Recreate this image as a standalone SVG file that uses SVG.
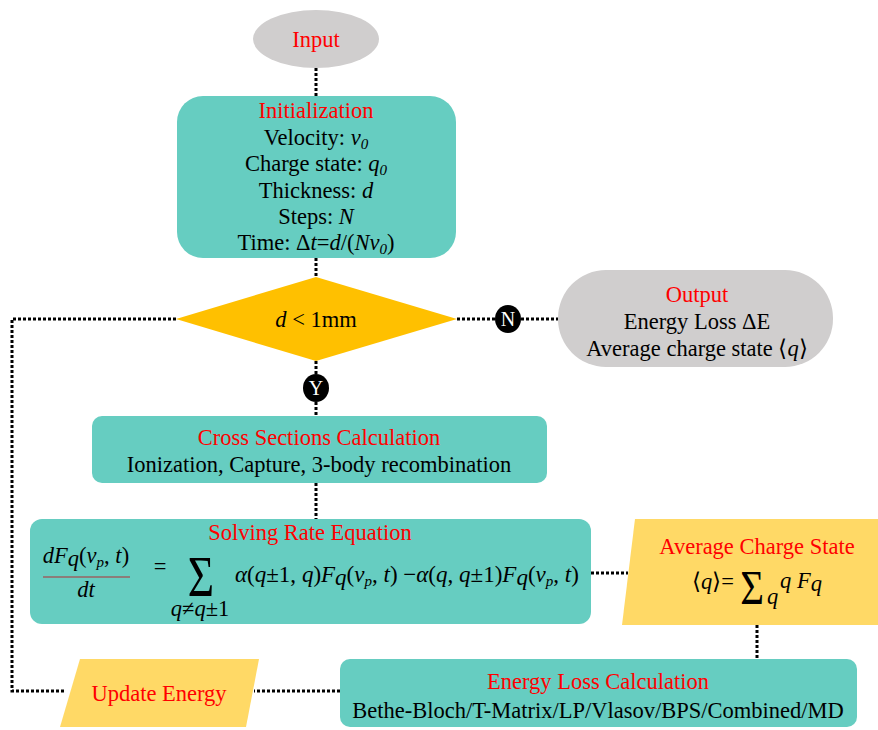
<svg xmlns="http://www.w3.org/2000/svg" width="878" height="730" viewBox="0 0 878 730">
<style>
.t{font-family:"Liberation Serif","Times New Roman",serif;font-size:22.5px;fill:#000;text-anchor:middle}
.r{fill:#ff0000}
.i{font-style:italic}
.s{text-anchor:start}
.teal{fill:#66cdc1}
.gold{fill:#ffd966}
.grey{fill:#d0cece}
.dot{fill:none;stroke:#000;stroke-width:3;stroke-dasharray:3 2}
.bc{fill:#000}
.w{fill:#fff;font-size:20px}
.sub{font-size:15px}
</style>
<g id="connectors">
<line class="dot" x1="316" y1="68" x2="316" y2="96"/>
<line class="dot" x1="316" y1="258" x2="316" y2="278"/>
<line class="dot" x1="457" y1="319" x2="495" y2="319"/>
<line class="dot" x1="521" y1="319" x2="558" y2="319"/>
<line class="dot" x1="316" y1="361" x2="316" y2="374"/>
<line class="dot" x1="316" y1="402" x2="316" y2="416"/>
<line class="dot" x1="316" y1="483" x2="316" y2="519"/>
<line class="dot" x1="591" y1="573" x2="628" y2="573"/>
<line class="dot" x1="757" y1="625" x2="757" y2="659"/>
<line class="dot" x1="340" y1="691" x2="254" y2="691"/>
<polyline class="dot" points="176,319 12,319 12,691 66,691"/>
</g>
<g id="input">
<ellipse class="grey" cx="316" cy="39" rx="63" ry="29"/>
<text class="t r" x="316" y="47">Input</text>
</g>
<g id="init">
<rect class="teal" x="177" y="96" width="279" height="162" rx="26"/>
<text class="t r" x="316" y="118">Initialization</text>
<text class="t" x="316" y="145">Velocity: <tspan class="i">v</tspan><tspan class="i sub" dy="4">0</tspan></text>
<text class="t" x="316" y="171">Charge state: <tspan class="i">q</tspan><tspan class="i sub" dy="4">0</tspan></text>
<text class="t" x="316" y="198">Thickness: <tspan class="i">d</tspan></text>
<text class="t" x="316" y="224">Steps: <tspan class="i">N</tspan></text>
<text class="t" x="316" y="250">Time: Δ<tspan class="i">t</tspan>=<tspan class="i">d</tspan>/(<tspan class="i">Nv</tspan><tspan class="i sub" dy="4">0</tspan><tspan dy="-4">)</tspan></text>
</g>
<g id="decision">
<polygon fill="#ffc000" points="176,319 316,277 457,319 316,361"/>
<text class="t" x="316" y="327"><tspan class="i">d</tspan> &lt; 1mm</text>
</g>
<g id="no">
<ellipse class="bc" cx="508" cy="319" rx="13" ry="14"/>
<text class="t w" x="508" y="326">N</text>
</g>
<g id="yes">
<ellipse class="bc" cx="316" cy="388" rx="13" ry="14"/>
<text class="t w" x="316" y="395">Y</text>
</g>
<g id="output">
<rect class="grey" x="558" y="270" width="275" height="97" rx="48"/>
<text class="t r" x="697" y="302">Output</text>
<text class="t" x="697" y="329">Energy Loss ΔE</text>
<text class="t" x="697" y="356">Average charge state ⟨<tspan class="i">q</tspan>⟩</text>
</g>
<g id="cross">
<rect class="teal" x="92" y="416" width="455" height="67" rx="10"/>
<text class="t r" x="319" y="445">Cross Sections Calculation</text>
<text class="t" x="319" y="472">Ionization, Capture, 3-body recombination</text>
</g>
<g id="rate">
<rect class="teal" x="30" y="519" width="561" height="105" rx="12"/>
<text class="t r" x="310" y="540">Solving Rate Equation</text>
<text class="t" x="86" y="563"><tspan class="i">dF</tspan><tspan class="i" dy="3">q</tspan><tspan dy="-3">(</tspan><tspan class="i">v</tspan><tspan class="i sub" dy="4">p</tspan><tspan dy="-4">, </tspan><tspan class="i">t</tspan>)</text>
<line x1="43" y1="577" x2="130" y2="577" stroke="#9a6262" stroke-width="1.5"/>
<text class="t i" x="86" y="597">dt</text>
<text class="t" x="160" y="574">=</text>
<text class="t" transform="translate(201,596) scale(0.78,1)" x="0" y="0" style="font-size:58px">Σ</text>
<text class="t" x="200" y="616"><tspan class="i">q</tspan>≠<tspan class="i">q</tspan>±1</text>
<text class="t s" x="235" y="582" style="font-size:23px"><tspan class="i">α</tspan>(<tspan class="i">q</tspan>±1, <tspan class="i">q</tspan>)<tspan class="i">F</tspan><tspan class="i" dy="3">q</tspan><tspan dy="-3">(</tspan><tspan class="i">v</tspan><tspan class="i sub" dy="4">p</tspan><tspan dy="-4">, </tspan><tspan class="i">t</tspan>) −<tspan class="i">α</tspan>(<tspan class="i">q</tspan>, <tspan class="i">q</tspan>±1)<tspan class="i">F</tspan><tspan class="i" dy="3">q</tspan><tspan dy="-3">(</tspan><tspan class="i">v</tspan><tspan class="i sub" dy="4">p</tspan><tspan dy="-4">, </tspan><tspan class="i">t</tspan>)</text>
</g>
<g id="avg">
<polygon class="gold" points="635,519 878,519 878,625 622,625"/>
<text class="t r" x="757" y="554">Average Charge State</text>
<text class="t s" x="692" y="589">⟨<tspan class="i">q</tspan>⟩=</text>
<text class="t" transform="translate(752,604) scale(0.85,1)" x="0" y="0" style="font-size:48px">Σ</text>
<text class="t i s" x="767" y="604">q</text>
<text class="t i s" x="780" y="588">q F<tspan dy="3">q</tspan></text>
</g>
<g id="update">
<polygon class="gold" points="80,659 259,659 246,727 60,727"/>
<text class="t r" x="159" y="701">Update Energy</text>
</g>
<g id="eloss">
<rect class="teal" x="340" y="659" width="517" height="68" rx="10"/>
<text class="t r" x="598" y="689">Energy Loss Calculation</text>
<text class="t" x="598" y="718">Bethe-Bloch/T-Matrix/LP/Vlasov/BPS/Combined/MD</text>
</g>
</svg>
